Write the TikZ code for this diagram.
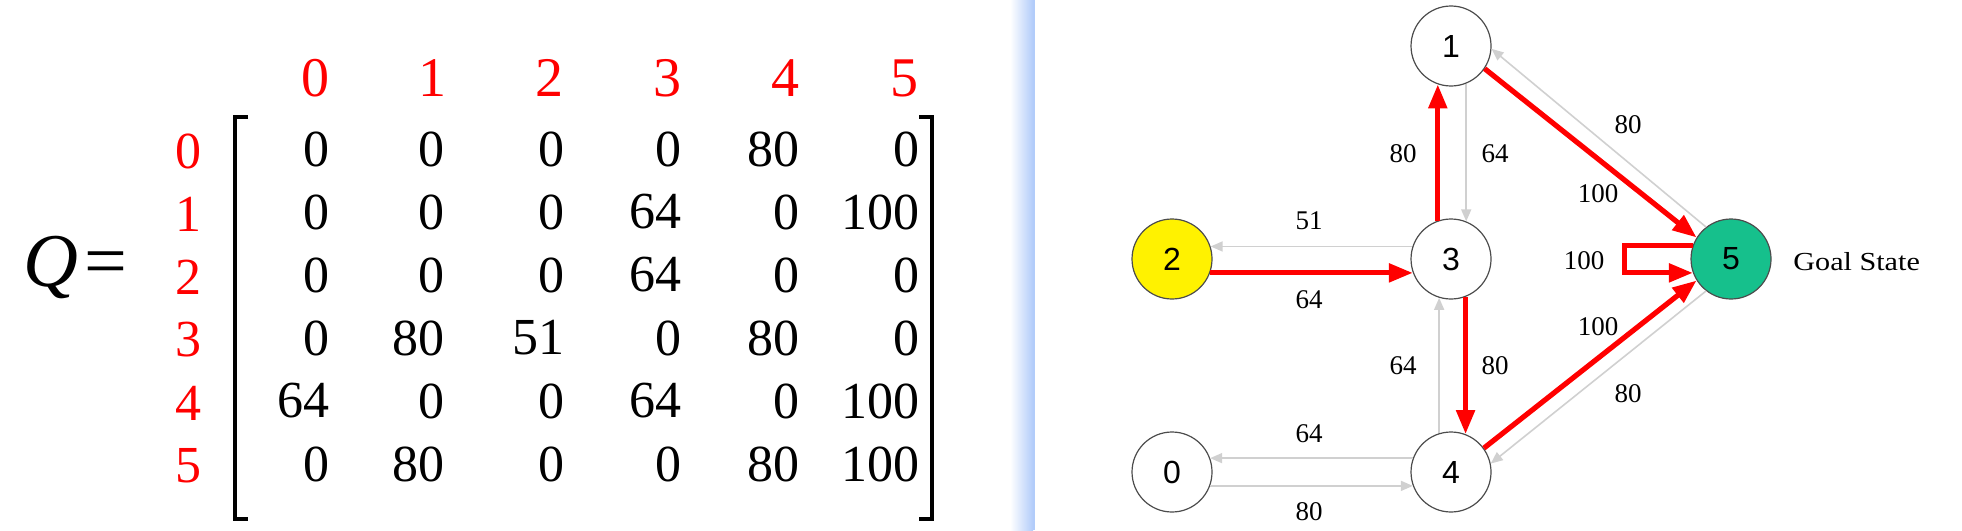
\documentclass[tikz,border=0pt]{standalone}
\usepackage{fontspec}
\setmainfont{Liberation Serif}
\newfontfamily\widefont[FakeStretch=1.16]{Liberation Serif}
\newfontfamily\statefont{Liberation Sans}
\usetikzlibrary{arrows.meta}

\definecolor{goalgreen}{RGB}{22,192,140}
\definecolor{backgray}{RGB}{208,208,208}
\definecolor{sepblue}{RGB}{178,204,250}

\tikzset{
  state/.style={circle, draw=black!70, line width=0.6pt, minimum size=40pt, inner sep=0pt,
    font=\statefont\fontsize{16}{16}\selectfont},
  best/.style={draw=red, line width=2.6pt, -{Triangle[length=12pt,width=9pt]}},
  back/.style={draw=backgray, line width=0.8pt, -{Triangle[length=6pt,width=5pt]}},
  wlabel/.style={font=\fontsize{13.5}{13.5}\selectfont},
  entry/.style={anchor=east, inner sep=0pt, font=\fontsize{26}{26}\selectfont},
  index/.style={text=red, inner sep=0pt, font=\fontsize{26}{26}\selectfont},
}

\begin{document}
\begin{tikzpicture}[x=0.5pt, y=-0.5pt]

\useasboundingbox (0,0) rectangle (1962,530);

% Q matrix
\node[anchor=base east, inner sep=0pt, font=\fontsize{38}{38}\selectfont] (qname) at (128,286) {\itshape Q\upshape\hspace{3pt}=};

% column and row indices
\foreach \c/\x in {0/315,1/432,2/549,3/667,4/785,5/904}
  \node[index, font=\fontsize{28}{28}\selectfont] (col\c) at (\x,78) {\c};

% entries, right aligned
\foreach \r/\y/\va/\vb/\vc/\vd/\ve/\vf in {
    0/149/0/0/0/0/80/0,
    1/212/0/0/0/64/0/100,
    2/275/0/0/0/64/0/0,
    3/338/0/80/51/0/80/0,
    4/401/64/0/0/64/0/100,
    5/464/0/80/0/0/80/100} {
  \node[index] (row\r) at (188,\y+2) {\r};
  \foreach \c/\x/\v in {0/330/\va,1/445/\vb,2/565/\vc,3/682/\vd,4/800/\ve,5/920/\vf}
    \node[entry] (q\r\c) at (\x,\y) {\v};
}

% brackets
\draw[line width=2.2pt] (248,117) -- (235,117) -- (235,519) -- (248,519);
\draw[line width=2.2pt] (919,117) -- (932,117) -- (932,519) -- (919,519);

% separator
\shade[left color=white, right color=sepblue] (1010,0) rectangle (1033,530);
\draw[sepblue, line width=0.8pt] (1034,0) -- (1034,530);

% states
\node[state] (s1) at (1451,46) {1};
\node[state, fill=yellow] (s2) at (1172,259) {2};
\node[state] (s3) at (1451,259) {3};
\node[state, fill=goalgreen] (s5) at (1731,259) {5};
\node[state] (s0) at (1172,472) {0};
\node[state] (s4) at (1451,472) {4};
\node[anchor=west, inner sep=0pt, font=\widefont\fontsize{13}{13}\selectfont] (goal) at (1793,262) {Goal State};

% light arrows
\draw[back] (s3.162) -- (s2.18);
\draw[back] (s1.-68) -- (s3.68);
\draw[back] (s4.107) -- (s3.-107);
\draw[back] (s5.128) -- (s1.-4);
\draw[back] (s5.-128) -- (s4.12);
\draw[back] (s4.160) -- (s0.20);
\draw[back] (s0.-20) -- (s4.-160);

% best path
\draw[best] (s2.-20) -- (s3.-160);
\draw[best] (s3.109) -- (s1.-109);
\draw[best] (s3.-69) -- (s4.69);
\draw[best] (s1.-34) -- (s5.148);
\draw[best] (s4.36) -- (s5.-148);
\draw[best] (s5.160) -- ++(-68,0) |- (s5.-160);

% weights
\node[wlabel] (w32) at (1309,221) {51};
\node[wlabel] (w23) at (1309,300) {64};
\node[wlabel] (w31) at (1403,154) {80};
\node[wlabel] (w13) at (1495,154) {64};
\node[wlabel] (w51) at (1628,125) {80};
\node[wlabel] (w15) at (1598,194) {100};
\node[wlabel] (w55) at (1584,261) {100};
\node[wlabel] (w45) at (1598,327) {100};
\node[wlabel] (w54) at (1628,394) {80};
\node[wlabel] (w43) at (1403,366) {64};
\node[wlabel] (w34) at (1495,366) {80};
\node[wlabel] (w40) at (1309,434) {64};
\node[wlabel] (w04) at (1309,512) {80};

\end{tikzpicture}
\end{document}
